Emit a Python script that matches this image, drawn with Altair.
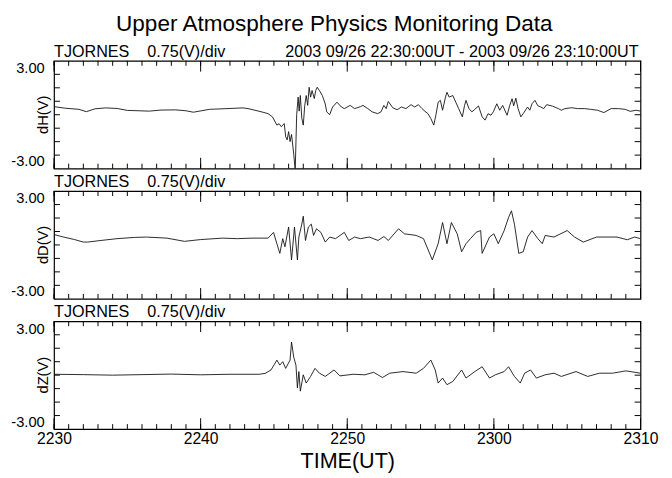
import altair as alt
import pandas as pd

F = "Liberation Sans"
TITLE = "Upper Atmosphere Physics Monitoring Data"
STATION = "TJORNES\u00a0\u00a0\u00a0\u00a00.75(V)/div"
RANGE = "2003 09/26 22:30:00UT - 2003 09/26 23:10:00UT"
XLABELS = ["2230", "2240", "2250", "2300", "2310"]
XMAJOR = [0, 10, 20, 30, 40]
XMINOR = list(range(0, 41))
YTICKS = [-2.25, -1.5, -0.75, 0, 0.75, 1.5, 2.25]
YLABELS = [-3, 3]
YLABEL_TEXT = ["-3.00", "3.00"]
COMPONENTS = ["dH(V)", "dD(V)", "dZ(V)"]

# minutes after 22:30 UT, values in V
H_T = [0, 0.8, 1.7, 2.2, 2.8, 3.5, 4.3, 5.0, 5.8, 6.5, 7.3, 8.3, 9.0, 9.5, 10.6, 11.8, 12.9, 13.3, 13.7,
       14.2, 14.6, 14.9, 15.2, 15.35, 15.5, 15.7, 15.8, 15.9, 16.0, 16.1, 16.2, 16.35, 16.45, 16.55, 16.65,
       16.72, 16.8, 16.9, 17.0, 17.1, 17.2, 17.3, 17.4, 17.5, 17.6, 17.75, 17.85, 17.95, 18.1, 18.3, 18.5,
       18.6, 18.8, 19.0, 19.3, 19.6, 19.8, 20.2, 20.5, 20.9, 21.07, 21.4, 21.7, 22.07, 22.3, 22.5, 22.65,
       22.8, 23.1, 23.4, 23.7, 24.0, 24.35, 24.6, 24.85, 25.1, 25.3, 25.5, 25.7, 25.9, 26.05, 26.2, 26.35,
       26.5, 26.7, 26.8, 26.95, 27.2, 27.4, 27.6, 27.85, 28.0, 28.1, 28.3, 28.5, 28.7, 28.95, 29.2, 29.4,
       29.6, 29.8, 29.96, 30.2, 30.4, 30.6, 30.9, 31.07, 31.24, 31.35, 31.5, 31.65, 31.84, 32.0, 32.3,
       32.45, 32.6, 32.8, 33.0, 33.2, 33.4, 33.6, 34.0, 34.4, 34.6, 34.84, 35.3, 35.7, 36.2, 36.6, 37.07,
       37.5, 38.0, 38.5, 38.95, 39.3, 39.7, 40]
H_V = [0.45, 0.36, 0.3, 0.17, 0.33, 0.38, 0.35, 0.24, 0.22, 0.2, 0.26, 0.27, 0.22, 0.14, 0.3, 0.34, 0.38, 0.33, 0.25,
       0.15, 0.06, -0.12, -0.58, -0.5, -0.67, -0.49, -1.22, -1.4, -0.94, -1.5, -1.1, -2.2, -3.1, 0.0, 0.98,
       0.2, 1.07, -0.2, -0.58, 0.52, 1.07, 0.52, 1.53, 0.98, 1.35, 0.9, 1.35, 1.53, 1.35, 1.07, 0.6,
       0.16, 0.0, 0.43, 0.7, 0.43, 0.34, 0.52, 0.34, 0.45, 0.52, 0.34, 0.16, 0.06, 0.16, 0.52, 0.34,
       0.74, 0.39, 0.28, 0.43, 0.34, 0.56, 0.43, 0.56, 0.34, 0.19, 0.06, -0.21, -0.58, 0.0, 0.7, 0.8,
       0.25, 0.98, 1.25, 0.98, 1.07, 0.7, 0.34, -0.12, 0.52, 0.8, 0.34, 0.16, 0.3, 0.49, -0.12, -0.3,
       0.06, -0.03, 0.16, 0.61, 0.25, 0.52, -0.03, 0.49, 0.89, 0.5, 0.92, 0.34, -0.12, 0.06, 0.43,
       0.25, 0.61, 0.8, 0.5, 0.43, 0.34, 0.56, 0.48, 0.34, 0.25, 0.34, 0.39, 0.34, 0.34, 0.3, 0.25,
       0.12, 0.34, 0.34, 0.3, 0.19, 0.25, 0.2]

D_T = [0, 0.6, 1.4, 2.0, 2.3, 3.2, 4.3, 5.5, 6.3, 7.7, 8.9, 10.0, 11.5, 12.5, 13.5, 14.6,
       14.97, 15.2, 15.4, 15.6, 15.75, 16.0, 16.2, 16.4, 16.6, 16.7, 16.9, 17.0, 17.15, 17.35, 17.55, 17.7,
       17.9, 18.2, 18.5, 18.8, 19.2, 19.8, 20.1, 20.5, 20.9, 21.5, 22.1, 22.5, 22.8, 23.5, 23.9, 24.7,
       25.2, 25.8, 26.2, 26.5, 26.8, 27.1, 27.5, 27.8, 28.1, 28.4, 28.8, 29.1, 29.2, 29.7, 30.0, 30.3,
       30.7, 31.0, 31.2, 31.4, 31.7, 32.0, 32.3, 32.6, 33.0, 33.3, 33.5, 34.1, 35.0, 35.5, 36.1, 37.0,
       38.4, 39.1, 39.6, 40]
D_V = [0.58, 0.45, 0.3, 0.16, 0.16, 0.25, 0.35, 0.42, 0.44, 0.38, 0.2, 0.3, 0.38, 0.35, 0.38, 0.38,
       0.7, 0.07, -0.47, 0.35, -0.1, 1.0, -0.83, 1.0, -0.83, 0.44, 1.16, 1.6, 0.25, 1.0, 1.16, 0.53,
       0.9, 0.7, 0.16, 0.44, 0.35, 0.7, 0.25, 0.44, 0.35, 0.44, 0.25, 0.47, 0.25, 0.9, 0.62, 0.53,
       0.35, -0.83, 0.07, 1.25, 0.07, 1.25, 0.62, -0.38, 0.07, 0.35, 0.71, 0.8, -0.47, 0.44, 0.62, 0.07,
       0.8, 1.53, 1.9, 1.16, -0.47, -0.38, 0.44, 0.8, 0.35, 0.07, 0.53, 0.44, 0.8, 0.44, 0.16, 0.44,
       0.44, 0.29, 0.44, 0.35]

Z_T = [0, 2, 4, 6, 8, 10, 12, 14, 14.4, 14.8, 15.2, 15.4, 15.6, 15.8, 16.1, 16.2, 16.35, 16.5, 16.6,
       16.7, 16.8, 17.0, 17.2, 17.5, 17.8, 18.1, 18.5, 19.1, 19.5, 20.4, 21.2, 21.8, 22.4, 22.9, 23.8,
       24.7, 25.2, 25.7, 26.0, 26.2, 26.5, 26.8, 27.2, 27.8, 28.1, 28.7, 29.2, 29.7, 30.1, 30.7, 31.0,
       31.4, 31.8, 32.1, 32.5, 32.9, 33.5, 34.1, 34.6, 35.6, 36.4, 37.2, 38.1, 39.0, 40]
Z_V = [0.05, 0.03, 0.0, 0.03, 0.06, 0.02, 0.05, 0.05, 0.1, 0.29, 0.84, 0.56, 0.75, 0.38, 0.84, 1.85, 1.0, 0.56, -0.71,
       0.2, -0.89, 0.02, -0.44, -0.07, 0.38, 0.11, -0.07, 0.29, -0.04, 0.05, 0.02, 0.16, -0.13, 0.11, 0.2,
       0.11, 0.38, 0.84, 0.29, -0.44, -0.16, -0.53, -0.35, 0.29, -0.16, 0.2, 0.47, -0.16, 0.02, 0.2, 0.47,
       -0.07, -0.44, 0.11, 0.29, -0.16, 0.02, 0.11, -0.07, 0.2, -0.07, 0.11, 0.11, 0.24, 0.11]

W, H = 599, 110

x_label_expr = " : ".join(f"datum.value == {v} ? '{s}'" for v, s in zip(XMAJOR, XLABELS)) + " : ''"
y_label_expr = " : ".join(f"datum.value == {v} ? '{s}'" for v, s in zip(YLABELS, YLABEL_TEXT)) + " : ''"


def panel(t, v, comp, bottom, right_text=None):
    xs = alt.Scale(domain=[0, 40], nice=False, zero=False)
    ys = alt.Scale(domain=[-3, 3], nice=False, zero=False)
    if bottom:
        xaxis = alt.Axis(values=XMAJOR, labelExpr=x_label_expr, ticks=False, domain=False, grid=False,
                         labelFontSize=16, labelPadding=2, labelFlush=False, title="TIME(UT)",
                         titleFontSize=22, titleFontWeight="normal", titlePadding=4)
    else:
        xaxis = None
    yaxis = alt.Axis(values=YLABELS, labelExpr=y_label_expr, ticks=False, domain=False, grid=False,
                     labelFontSize=15, labelPadding=10, labelFlush=True, title=None)
    X = lambda: alt.X("t:Q", scale=xs, axis=xaxis)
    Y = lambda: alt.Y("v:Q", scale=ys, axis=yaxis)

    line = alt.Chart(pd.DataFrame({"t": t, "v": v})).mark_line(
        color="#111", strokeWidth=0.9, clip=True).encode(x=X(), y=Y())
    layers = [line]
    minor = pd.DataFrame({"t": XMINOR})
    major = pd.DataFrame({"t": XMAJOR})
    for d, L in ((minor, 5), (major, 11)):
        layers.append(alt.Chart(d).mark_rule(color="black", strokeWidth=1).encode(
            x=X(), y=alt.value(H), y2=alt.value(H - L)))
        layers.append(alt.Chart(d).mark_rule(color="black", strokeWidth=1).encode(
            x=X(), y=alt.value(0), y2=alt.value(L)))
    yt = pd.DataFrame({"v": YTICKS})
    layers.append(alt.Chart(yt).mark_rule(color="black", strokeWidth=1).encode(
        y=Y(), x=alt.value(0), x2=alt.value(6)))
    layers.append(alt.Chart(yt).mark_rule(color="black", strokeWidth=1).encode(
        y=Y(), x=alt.value(W - 6), x2=alt.value(W)))
    layers.append(alt.Chart(pd.DataFrame({"s": [comp]})).mark_text(
        align="center", baseline="bottom", angle=270, fontSize=15, font=F, color="black").encode(
        x=alt.value(-3), y=alt.value(H / 2), text="s:N"))
    layers.append(alt.Chart(pd.DataFrame({"s": [STATION]})).mark_text(
        align="left", baseline="bottom", fontSize=16.5, font=F, color="black").encode(
        x=alt.value(0), y=alt.value(-1), text="s:N"))
    if right_text:
        layers.append(alt.Chart(pd.DataFrame({"s": [right_text]})).mark_text(
            align="right", baseline="bottom", fontSize=16.5, font=F, color="black").encode(
            x=alt.value(W - 2), y=alt.value(-1), text="s:N"))
    return alt.layer(*layers).properties(width=W, height=H)


p1 = panel(H_T, H_V, COMPONENTS[0], False, RANGE)
p2 = panel(D_T, D_V, COMPONENTS[1], False)
p3 = panel(Z_T, Z_V, COMPONENTS[2], True)

chart = alt.vconcat(p1, p2, p3, spacing=3).properties(
    title=alt.TitleParams(TITLE, fontSize=23, fontWeight="normal", font=F, anchor="middle", offset=8),
    padding={"left": 2, "top": 0, "right": 5, "bottom": 0},
).configure_view(stroke="black", strokeWidth=1.2).configure_axis(
    labelFont=F, titleFont=F, labelColor="black", titleColor="black"
).configure_title(font=F, color="black")

chart.save("out.html", embed_options={"renderer": "svg", "actions": False})
